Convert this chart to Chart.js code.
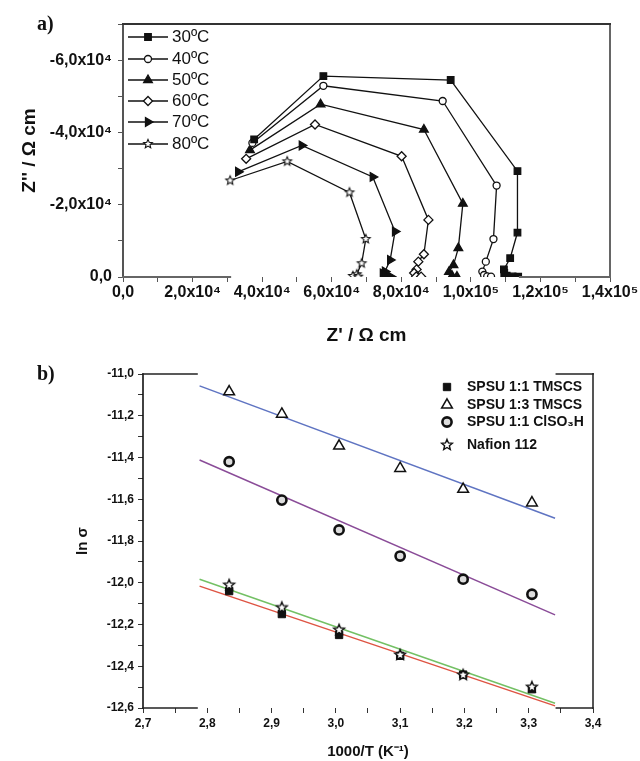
<!DOCTYPE html>
<html>
<head>
<meta charset="utf-8">
<script src="https://cdn.jsdelivr.net/npm/chart.js"></script>
<style>
  html, body { margin: 0; padding: 0; background: #fff; }
  body { width: 640px; height: 761px; position: relative; overflow: hidden; }
  canvas { position: absolute; left: 0; }
  #chartA { top: 0; }
  #chartB { top: 360px; }
  .tag { position: absolute; left: 37px; font: bold 20px "Liberation Serif", "DejaVu Serif", serif; color: #111; line-height: 20px; }
</style>
</head>
<body>
<canvas id="chartA" width="640" height="360"></canvas>
<canvas id="chartB" width="640" height="401"></canvas>
<div class="tag" style="top:13px">a)</div>
<div class="tag" style="top:363px">b)</div>
<script>
// a) Nyquist plot, Z' and Z'' in ohm cm, one pair of arrays per temperature
const tempLabels = ['30ºC', '40ºC', '50ºC', '60ºC', '70ºC', '80ºC']
const re30 = [37700, 57600, 94200, 113400, 113400, 111300, 109500, 109600, 110300, 112000, 113600]
const im30 = [-38100, -55600, -54500, -29300, -12300, -5200, -2100, -1100, -400, -150, -100]
const re40 = [37200, 57600, 91900, 107400, 106500, 104300, 103300, 103800, 104700, 105800]
const im40 = [-37100, -52900, -48700, -25300, -10500, -4250, -1500, -550, -150, -100]
const re50 = [36500, 56800, 86500, 97700, 96400, 95000, 93700, 94600, 96000]
const im50 = [-35100, -47800, -40800, -20300, -8000, -3300, -1400, -300, -100]
const re60 = [35400, 55200, 80100, 87800, 86500, 84900, 84400, 83700, 84300, 85700]
const im60 = [-32700, -42200, -33400, -15800, -6300, -4250, -2100, -1100, -150, -100]
const re70 = [33100, 51400, 71800, 78200, 76800, 75300, 74700, 75600, 77000]
const im70 = [-29100, -36400, -27700, -12600, -4700, -1500, -1000, -250, -100]
const re80 = [30800, 47200, 65100, 69800, 68600, 67200, 66100, 67600]
const im80 = [-26700, -32000, -23400, -10500, -3800, -750, -280, -100]

// b) Arrhenius plot, ln sigma against 1000/T
const membranes = ['SPSU 1:1 TMSCS', 'SPSU 1:3 TMSCS', 'SPSU 1:1 ClSO₃H', 'Nafion 112']
const invT = [2.834, 2.916, 3.005, 3.100, 3.198, 3.305]
const lnTmscs11 = [-12.04, -12.15, -12.25, -12.35, -12.44, -12.51]
const lnTmscs13 = [-11.085, -11.192, -11.345, -11.452, -11.552, -11.617]
const lnClso3h = [-11.42, -11.604, -11.747, -11.872, -11.983, -12.055]
const lnNafion = [-12.011, -12.119, -12.226, -12.346, -12.442, -12.50]
const fitX = [2.788, 3.341]
const fitTmscs11 = [-12.016, -12.590]
const fitTmscs13 = [-11.057, -11.691]
const fitClso3h = [-11.412, -12.154]
const fitNafion = [-11.983, -12.577]

const FONT = '"Liberation Sans", Arial, sans-serif'
const INK = '#111'

const pts = (xs, ys) => xs.map((x, i) => ({ x, y: ys[i] }))

const sup = { 4: '⁴', 5: '⁵' }
function sci(v) {
  if (v === 0) return '0,0'
  const e = Math.floor(Math.log10(Math.abs(v)) + 1e-9)
  return (v / Math.pow(10, e)).toFixed(1).replace('.', ',') + 'x10' + sup[e]
}

function starCanvas(r, lw) {
  const s = Math.ceil(2 * r + 2 * lw + 2)
  const c = document.createElement('canvas')
  c.width = c.height = s
  const g = c.getContext('2d')
  g.beginPath()
  for (let i = 0; i < 10; i++) {
    const rr = i % 2 ? r * 0.45 : r
    const t = -Math.PI / 2 + i * Math.PI / 5
    g.lineTo(s / 2 + rr * Math.cos(t), s / 2 + rr * Math.sin(t))
  }
  g.closePath()
  g.fillStyle = '#fff'
  g.fill()
  g.lineWidth = lw
  g.strokeStyle = INK
  g.stroke()
  return c
}

// box round the plot, with the gaps the scan left in it
const framePlugin = {
  id: 'frame',
  afterDraw(chart, args, o) {
    const { ctx, chartArea: a, scales } = chart
    const px = v => scales.x.getPixelForValue(v)
    const seg = (x0, y0, x1, y1, c, w) => {
      ctx.beginPath()
      ctx.strokeStyle = c
      ctx.lineWidth = w
      ctx.moveTo(x0, y0)
      ctx.lineTo(x1, y1)
      ctx.stroke()
    }
    const hline = (y, gap, c, w) => {
      if (!gap) return seg(a.left, y, a.right, y, c, w)
      seg(a.left, y, px(gap[0]), y, c, w)
      seg(px(gap[1]), y, a.right, y, c, w)
    }
    ctx.save()
    ctx.lineCap = 'square'
    seg(a.left, a.top, a.left, a.bottom, o.left[0], o.left[1])
    seg(a.right, a.top, a.right, a.bottom, o.right[0], o.right[1])
    hline(a.top, o.topGap, o.top[0], o.top[1])
    hline(a.bottom, o.bottomGap, o.bottom[0], o.bottom[1])
    ctx.restore()
  }
}

// legend drawn inside the plot area
const keyPlugin = {
  id: 'key',
  afterDraw(chart, args, o) {
    const { ctx, chartArea: a } = chart
    ctx.save()
    ctx.font = o.font
    ctx.textBaseline = 'middle'
    ctx.textAlign = 'left'
    o.items.forEach((idx, i) => {
      const ds = chart.data.datasets[idx]
      const y = a.top + o.rows[i]
      const mx = a.left + o.markerX
      if (o.lineLen) {
        ctx.beginPath()
        ctx.strokeStyle = INK
        ctx.lineWidth = ds.borderWidth
        ctx.moveTo(mx - o.lineLen / 2, y)
        ctx.lineTo(mx + o.lineLen / 2, y)
        ctx.stroke()
      }
      ctx.fillStyle = ds.pointBackgroundColor
      ctx.strokeStyle = ds.pointBorderColor
      ctx.lineWidth = ds.pointBorderWidth
      Chart.helpers.drawPoint(ctx, {
        pointStyle: ds.pointStyle,
        radius: ds.pointRadius,
        rotation: ds.pointRotation || 0,
        borderWidth: ds.pointBorderWidth
      }, mx, y)
      ctx.fillStyle = INK
      ctx.fillText(ds.label, a.left + o.textX, y)
    })
    ctx.restore()
  }
}

function tempSet(label, xs, ys, style, radius, fill, rotation) {
  return {
    label,
    data: pts(xs, ys),
    showLine: true,
    borderColor: INK,
    borderWidth: 1.3,
    tension: 0,
    pointStyle: style,
    pointRadius: radius,
    pointRotation: rotation || 0,
    pointBackgroundColor: fill,
    pointBorderColor: INK,
    pointBorderWidth: 1.3
  }
}

const star5 = starCanvas(4.6, 1.1)

new Chart(document.getElementById('chartA'), {
  type: 'scatter',
  data: {
    datasets: [
      tempSet(tempLabels[0], re30, im30, 'rect', 4.6, INK),
      tempSet(tempLabels[1], re40, im40, 'circle', 3.5, '#fff'),
      tempSet(tempLabels[2], re50, im50, 'triangle', 5, INK),
      tempSet(tempLabels[3], re60, im60, 'rectRot', 4.5, '#fff'),
      tempSet(tempLabels[4], re70, im70, 'triangle', 5, INK, 90),
      tempSet(tempLabels[5], re80, im80, star5, 5, '#fff')
    ]
  },
  options: {
    responsive: false,
    animation: false,
    devicePixelRatio: 1,
    layout: { padding: { left: 0, top: 24, right: 30, bottom: 0 } },
    plugins: {
      legend: { display: false },
      tooltip: { enabled: false },
      frame: {
        left: ['#555', 2], right: ['#666', 2], top: ['#333', 2], bottom: ['#666', 2],
        bottomGap: [30800, 114100]
      },
      key: {
        font: '17px ' + FONT,
        items: [0, 1, 2, 3, 4, 5],
        rows: [13, 35, 56, 77, 98, 120],
        markerX: 25, lineLen: 40, textX: 49
      }
    },
    scales: {
      x: {
        type: 'linear', min: 0, max: 140000,
        ticks: {
          stepSize: 10000, autoSkip: false, maxRotation: 0, padding: 1, color: INK,
          font: { family: FONT, size: 16, weight: 'bold' },
          callback: v => v % 20000 === 0 ? sci(v) : ''
        },
        grid: { drawOnChartArea: false, tickLength: 5, tickColor: '#555' },
        border: { display: false },
        title: { display: true, text: "Z' / Ω cm", color: INK, padding: 13, font: { family: FONT, size: 19, weight: 'bold' } },
        afterFit: s => { s.height = 83 }
      },
      y: {
        type: 'linear', min: -70000, max: 0, reverse: true,
        ticks: {
          stepSize: 10000, autoSkip: false, padding: 6, color: INK,
          font: { family: FONT, size: 16, weight: 'bold' },
          callback: v => v % 20000 === 0 ? sci(v) : ''
        },
        grid: { drawOnChartArea: false, tickLength: 5, tickColor: '#555' },
        border: { display: false },
        title: { display: true, text: "Z'' / Ω cm", color: INK, padding: 18, font: { family: FONT, size: 19, weight: 'bold' } },
        afterFit: s => { s.width = 123 }
      }
    }
  },
  plugins: [framePlugin, keyPlugin]
})

function markSet(label, ys, style, radius, fill, bw, order) {
  return {
    label,
    data: pts(invT, ys),
    showLine: false,
    order,
    pointStyle: style,
    pointRadius: radius,
    pointBackgroundColor: fill,
    pointBorderColor: INK,
    pointBorderWidth: bw,
    borderWidth: bw
  }
}

function fitSet(ys, color) {
  return {
    label: '',
    data: pts(fitX, ys),
    showLine: true,
    order: 3,
    borderColor: color,
    borderWidth: 1.5,
    pointRadius: 0,
    tension: 0
  }
}

const star6 = starCanvas(5.6, 1.4)

new Chart(document.getElementById('chartB'), {
  type: 'scatter',
  data: {
    datasets: [
      markSet(membranes[0], lnTmscs11, 'rect', 5.2, INK, 1, 2),
      markSet(membranes[1], lnTmscs13, 'triangle', 6.2, '#fff', 1.5, 1),
      markSet(membranes[2], lnClso3h, 'circle', 4.6, '#ddd', 2.6, 1),
      markSet(membranes[3], lnNafion, star6, 6, '#fff', 1.4, 0),
      fitSet(fitTmscs13, '#5f74c2'),
      fitSet(fitClso3h, '#8a4c98'),
      fitSet(fitNafion, '#73c064'),
      fitSet(fitTmscs11, '#de5443')
    ]
  },
  options: {
    responsive: false,
    animation: false,
    devicePixelRatio: 1,
    layout: { padding: { left: 0, top: 14, right: 47, bottom: 0 } },
    plugins: {
      legend: { display: false },
      tooltip: { enabled: false },
      frame: {
        left: ['#111', 1.6], right: ['#555', 2], top: ['#222', 1.6], bottom: ['#222', 1.6],
        topGap: [2.784, 3.343], bottomGap: [2.784, 3.343]
      },
      key: {
        font: 'bold 14px ' + FONT,
        items: [0, 1, 2, 3],
        rows: [13, 31, 48, 71],
        markerX: 304, lineLen: 0, textX: 324
      }
    },
    scales: {
      x: {
        type: 'linear', min: 2.7, max: 3.4,
        ticks: {
          stepSize: 0.05, autoSkip: false, maxRotation: 0, padding: 3, color: INK,
          font: { family: FONT, size: 12, weight: 'bold' },
          callback: v => {
            const k = Math.round(v * 100)
            return k % 10 === 0 ? (k / 100).toFixed(1).replace('.', ',') : ''
          }
        },
        grid: { drawOnChartArea: false, tickLength: 5, tickColor: '#333' },
        border: { display: false },
        title: { display: true, text: '1000/T (K⁻¹)', color: INK, padding: 0, font: { family: FONT, size: 15, weight: 'bold' } },
        afterFit: s => { s.height = 53 }
      },
      y: {
        type: 'linear', min: -12.6, max: -11.0,
        ticks: {
          stepSize: 0.1, autoSkip: false, padding: 4, color: INK,
          font: { family: FONT, size: 12, weight: 'bold' },
          callback: v => {
            const k = Math.round(v * 10)
            return k % 2 === 0 ? (k / 10).toFixed(1).replace('.', ',') : ''
          }
        },
        grid: { drawOnChartArea: false, tickLength: 5, tickColor: '#333' },
        border: { display: false },
        title: { display: true, text: 'ln σ', color: INK, padding: 74, font: { family: FONT, size: 15, weight: 'bold' } },
        afterFit: s => { s.width = 143 }
      }
    }
  },
  plugins: [framePlugin, keyPlugin]
})
</script>
</body>
</html>
